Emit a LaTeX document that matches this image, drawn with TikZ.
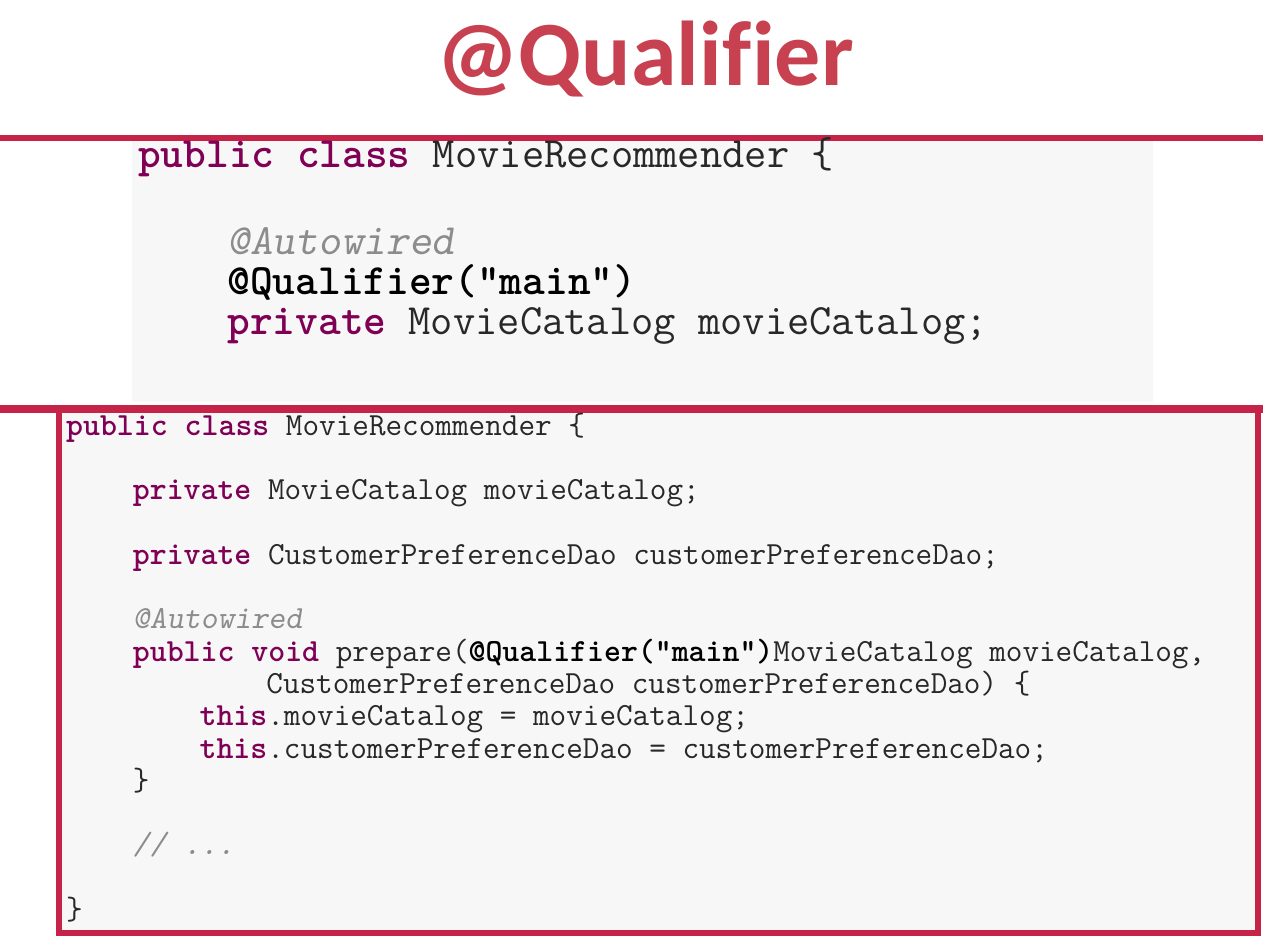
\documentclass[tikz,border=0pt]{standalone}
\usepackage{fontspec}
\newfontfamily\titlefont{Carlito}[Ligatures=NoCommon]
\definecolor{titlered}{RGB}{200,65,80}
\definecolor{barred}{RGB}{198,35,72}
\definecolor{panelgray}{RGB}{247,247,247}
\definecolor{kwc}{RGB}{127,0,85}
\definecolor{codetext}{RGB}{40,40,40}
\definecolor{anngray}{RGB}{140,140,140}
\newcommand\kw[1]{\textcolor{kwc}{\bfseries #1}}
\newcommand\ann[1]{\textcolor{anngray}{\slshape #1}}
\newcommand\qual[1]{\textcolor{black}{\bfseries #1}}
\tikzset{
  codetop/.style={anchor=base west, inner sep=0pt, text=codetext, font=\ttfamily\fontsize{43.25}{46}\selectfont},
  codebot/.style={anchor=base west, inner sep=0pt, text=codetext, font=\ttfamily\fontsize{32.25}{34}\selectfont},
  bar/.style={draw=barred, line width=#1},
}
\begin{document}
\begin{tikzpicture}[x=1pt,y=-1pt]
\useasboundingbox (0,0) rectangle (1263,937);
\fill[white] (0,0) rectangle (1263,937);
% title
\node[anchor=base, inner sep=0pt, text=titlered, font=\titlefont\bfseries\fontsize{92}{100}\selectfont] (title) at (645,85) {@Qualif\kern1pt ier};
% top panel
\fill[panelgray] (132,141) rectangle (1153,402);
\draw[bar=6pt] (0,138) -- (1263,138);
% top code
\node[codetop] (t1) at (138,167) {\kw{public class} MovieRecommender \{};
\node[codetop] (t2) at (227.3,254) {\ann{@Autowired}};
\node[codetop] (t3) at (227.3,294) {\qual{@Qualifier("main")}};
\node[codetop] (t4) at (227.3,334) {\kw{private} MovieCatalog movieCatalog;};
% bottom box
\fill[panelgray] (58.5,410) rectangle (1257.5,932.5);
\draw[bar=8pt] (0,409) -- (1263,409);
\draw[bar=6pt] (58.5,410) rectangle (1257.5,932.5);
% bottom code
\node[codebot] (b1) at (66,435) {\kw{public class} MovieRecommender \{};
\node[codebot] (b2) at (132.7,499.6) {\kw{private} MovieCatalog movieCatalog;};
\node[codebot] (b3) at (132.7,564.2) {\kw{private} CustomerPreferenceDao customerPreferenceDao;};
\node[codebot] (b4) at (132.7,628.8) {\ann{@Autowired}};
\node[codebot] (b5) at (132.7,661.1) {\kw{public void} prepare(\qual{@Qualifier("main")}MovieCatalog movieCatalog,};
\node[codebot] (b6) at (266.2,693.4) {CustomerPreferenceDao customerPreferenceDao) \{};
\node[codebot] (b7) at (199.4,725.7) {\kw{this}.movieCatalog = movieCatalog;};
\node[codebot] (b8) at (199.4,758) {\kw{this}.customerPreferenceDao = customerPreferenceDao;};
\node[codebot] (b9) at (132.7,790.3) {\}};
\node[codebot] (b10) at (132.7,854.9) {\ann{// ...}};
\node[codebot] (b11) at (66,919.5) {\}};
\end{tikzpicture}
\end{document}
